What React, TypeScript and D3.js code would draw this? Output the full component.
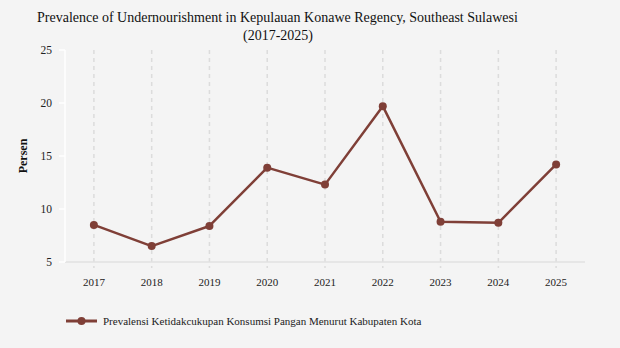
import React from "react";
import * as d3 from "d3";

const years = ["2017", "2018", "2019", "2020", "2021", "2022", "2023", "2024", "2025"];
const values = [8.5, 6.5, 8.4, 13.9, 12.3, 19.7, 8.8, 8.7, 14.2];
const yTicks = [5, 10, 15, 20, 25];
const seriesName = "Prevalensi Ketidakcukupan Konsumsi Pangan Menurut Kabupaten Kota";

const W = 620, H = 348;
const left = 65, right = 585, top = 50, bottom = 262;
const color = "#7f3f37";
const font = "Liberation Serif, Times New Roman, serif";

export default function App() {
  const x = d3.scalePoint<string>().domain(years).range([left, right]).padding(0.5);
  const y = d3.scaleLinear().domain([5, 25]).range([bottom, top]);
  const line = d3.line<number>().x((_, i) => x(years[i])!).y((d) => y(d));
  return (
    <svg width={W} height={H} style={{ position: "absolute", left: 0, top: 0, background: "#f4f4f4", fontFamily: font }}>
      <rect width={W} height={H} fill="#f4f4f4" />
      <text x={37} y={22} fontSize={14} fill="#111">Prevalence of Undernourishment in Kepulauan Konawe Regency, Southeast Sulawesi</text>
      <text x={278} y={40} fontSize={14} fill="#111" textAnchor="middle">(2017-2025)</text>
      {years.map((yr) => (
        <line key={yr} x1={x(yr)} x2={x(yr)} y1={top} y2={bottom + 6} stroke="#dcdcdc" strokeWidth={1.5} strokeDasharray="4,4" />
      ))}
      <line x1={left} x2={right} y1={bottom} y2={bottom} stroke="#e2e2e2" strokeWidth={1.5} />
      <line x1={left} x2={left} y1={top} y2={bottom} stroke="#ffffff" strokeWidth={1.5} />
      {yTicks.map((t) => (
        <g key={t}>
          <line x1={left - 6} x2={left} y1={y(t)} y2={y(t)} stroke="#ffffff" strokeWidth={1.5} />
          <text x={left - 13} y={y(t)} dy="0.35em" fontSize={11.5} textAnchor="end" fill="#222">{t}</text>
        </g>
      ))}
      {years.map((yr) => (
        <text key={yr} x={x(yr)} y={282} dy="0.35em" fontSize={11} textAnchor="middle" fill="#222">{yr}</text>
      ))}
      <text transform={`translate(27,${(top + bottom) / 2}) rotate(-90)`} textAnchor="middle" fontSize={12} fontWeight="bold" fill="#111">Persen</text>
      <path d={line(values) ?? ""} fill="none" stroke={color} strokeWidth={2.5} strokeLinejoin="round" />
      {values.map((v, i) => (
        <circle key={i} cx={x(years[i])} cy={y(v)} r={4} fill={color} />
      ))}
      <line x1={66} x2={97} y1={321} y2={321} stroke={color} strokeWidth={3} />
      <circle cx={81.5} cy={321} r={4} fill={color} />
      <text x={103} y={321} dy="0.35em" fontSize={11} fill="#222">{seriesName}</text>
    </svg>
  );
}
